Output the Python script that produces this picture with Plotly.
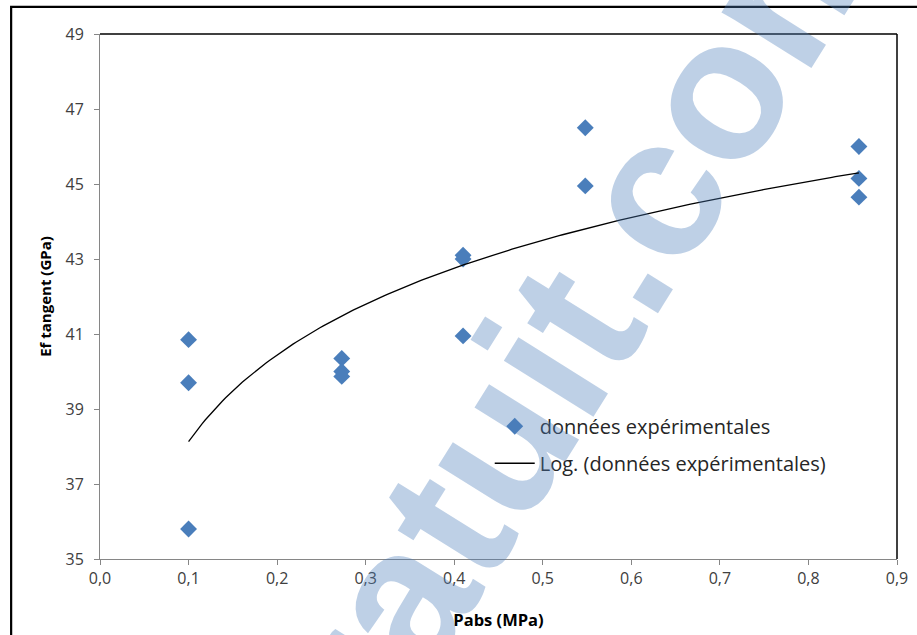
import numpy as np
import plotly.graph_objects as go

# Absolute pressure (MPa) and measured tangent modulus Ef (GPa)
pabs = [0.1, 0.1, 0.1,
        0.273, 0.273, 0.273,
        0.41, 0.41, 0.41,
        0.548, 0.548,
        0.857, 0.857, 0.857]
ef_tangent = [40.85, 39.7, 35.8,
              40.35, 40.0, 39.87,
              43.1, 43.0, 40.95,
              46.5, 44.95,
              46.0, 45.15, 44.65]

x_ticks = [0.0, 0.1, 0.2, 0.3, 0.4, 0.5, 0.6, 0.7, 0.8, 0.9]
y_ticks = [35, 37, 39, 41, 43, 45, 47, 49]

series_name = "données expérimentales"
trend_name = "Log. (données expérimentales)"
watermark = "cours-gratuit.com"

# Logarithmic least-squares trend: Ef = a*ln(P) + b
a, b = np.polyfit(np.log(pabs), ef_tangent, 1)
x_fit = np.linspace(min(pabs), max(pabs), 200)
y_fit = a * np.log(x_fit) + b

fig = go.Figure()
fig.add_trace(go.Scatter(
    x=pabs, y=ef_tangent, mode="markers", name=series_name,
    marker=dict(symbol="diamond", size=13, color="#4A7EBB", line=dict(width=0)),
    legendgroup="g1",
))
fig.add_trace(go.Scatter(
    x=x_fit, y=y_fit, mode="lines", name=trend_name,
    line=dict(color="black", width=1.3),
    legendgroup="g2",
))

axis_grey = "#868686"
base_font = "Open Sans, Noto Sans, sans-serif"
tick_font = dict(family=base_font, size=16, color="#404040")

fig.update_layout(
    width=917, height=635,
    margin=dict(l=100, r=20, t=34, b=76),
    paper_bgcolor="white", plot_bgcolor="white",
    separators=", ",
    showlegend=True,
    legend=dict(
        x=0.489, y=0.29, xanchor="left", yanchor="top",
        bgcolor="rgba(0,0,0,0)",
        font=dict(family=base_font, size=20, color="#262626"),
        tracegroupgap=8, traceorder="grouped",
        itemwidth=40,
    ),
    xaxis=dict(
        range=[0, 0.9], tickvals=x_ticks, tickformat=".1f",
        showgrid=False, zeroline=False, automargin=False,
        showline=True, linecolor=axis_grey, linewidth=1,
        ticks="outside", ticklen=5, tickcolor=axis_grey,
        tickfont=tick_font,
        title=dict(text="Pabs (MPa)",
                   font=dict(family=base_font, size=16.5, color="black", weight="bold"),
                   standoff=26),
    ),
    yaxis=dict(
        range=[35, 49], tickvals=y_ticks, tickformat="d",
        showgrid=False, zeroline=False, automargin=False,
        showline=True, linecolor=axis_grey, linewidth=1,
        ticks="outside", ticklen=5, tickcolor=axis_grey,
        tickfont=tick_font, ticklabelstandoff=7,
        title=dict(text="Ef tangent (GPa)",
                   font=dict(family=base_font, size=15, color="black", weight="bold"),
                   standoff=10),
    ),
    shapes=[
        # dark top and right edges of the plot area
        dict(type="line", xref="paper", yref="paper", x0=0, x1=1, y0=1, y1=1,
             line=dict(color="black", width=1.5)),
        dict(type="line", xref="paper", yref="paper", x0=1, x1=1, y0=0, y1=1,
             line=dict(color="black", width=1.5)),
        # chart frame
        dict(type="rect", xref="paper", yref="paper",
             x0=-0.1115, x1=1.06, y0=1.0515, y1=-0.16,
             line=dict(color="black", width=2.2), fillcolor="rgba(0,0,0,0)"),
    ],
    annotations=[
        dict(text=watermark, xref="paper", yref="paper", x=0.362, y=-0.104,
             xanchor="center", yanchor="middle", showarrow=False, textangle=-58,
             font=dict(family="Liberation Sans, Arial, sans-serif", size=200,
                       color="rgba(74,126,187,0.36)", weight="bold")),
    ],
)

fig.write_html("out.html")
